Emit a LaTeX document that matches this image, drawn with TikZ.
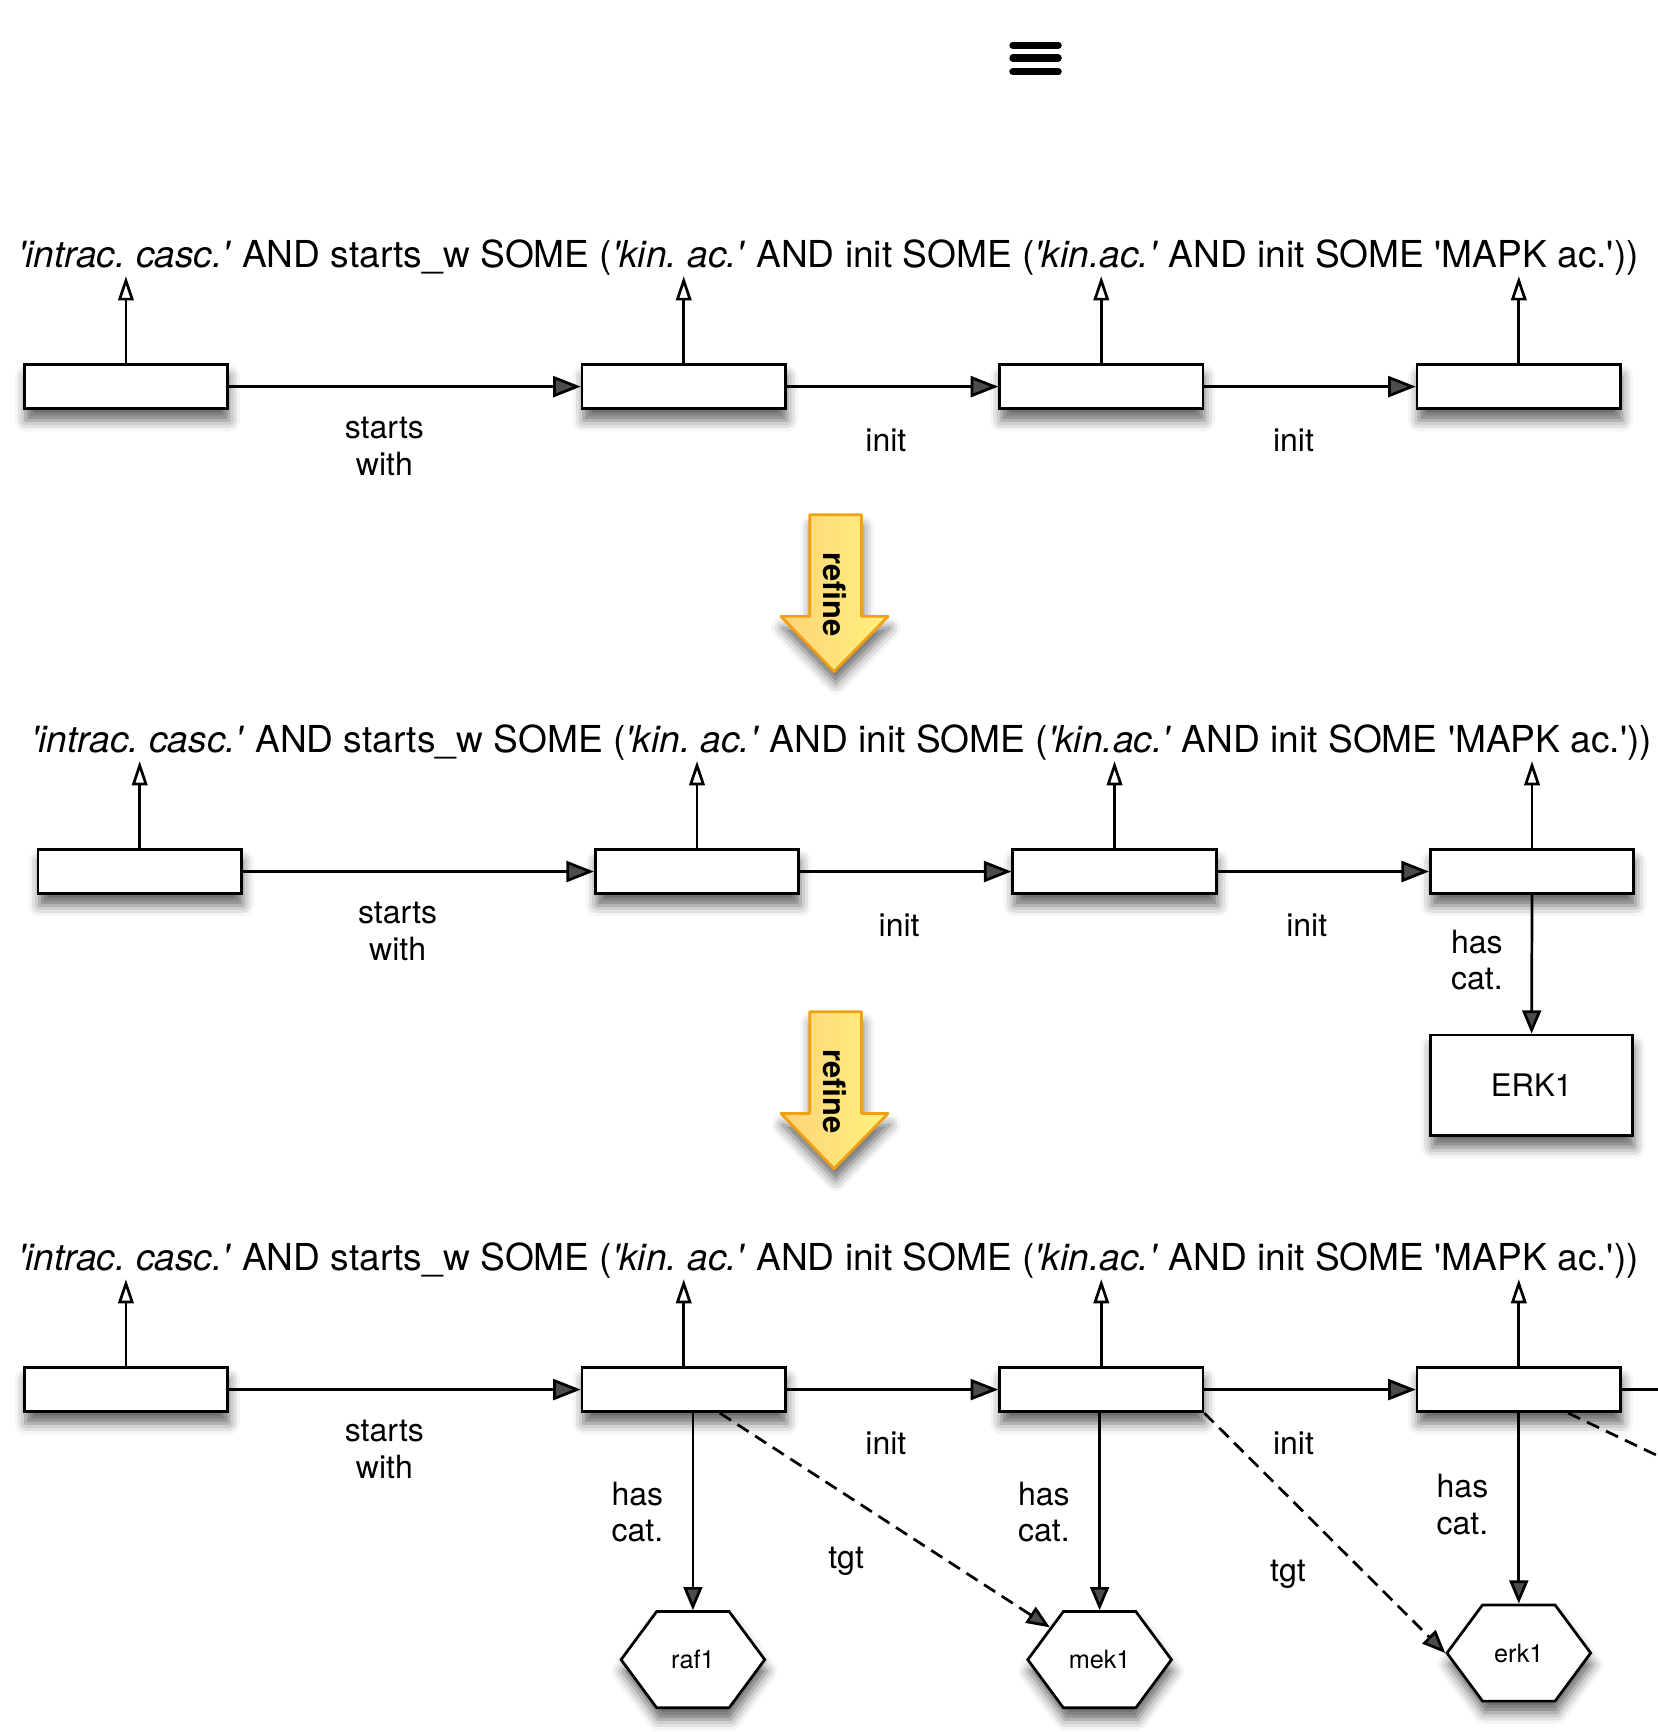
\documentclass[tikz,border=0pt]{standalone}
\usepackage{fontspec}
\setmainfont{TeX Gyre Heros}
\usetikzlibrary{arrows.meta,shapes.symbols,shadows.blur}
\definecolor{refL}{HTML}{FFD27A}
\definecolor{refR}{HTML}{FFF27C}
\definecolor{refB}{HTML}{F0A010}
\newcommand{\sq}{\textquotesingle}
\newcommand{\casc}{\frenchspacing\textit{\sq intrac. casc.\sq} AND starts\_w SOME (\textit{\sq kin. ac.\sq} AND init SOME (\textit{\sq kin.ac.\sq} AND init SOME \sq MAPK ac.\sq))}
\begin{document}
\begin{tikzpicture}
  [x=0.01cm,y=-0.01cm,line width=0.7pt,
   shad/.style={blur shadow={shadow xshift=0.4pt,shadow yshift=-3pt,shadow blur radius=2.8pt,shadow opacity=60}},
   box/.style={draw,fill=white,minimum width=1.84cm,minimum height=0.4cm,inner sep=0pt,shad},
   bigbox/.style={draw,fill=white,minimum width=1.83cm,minimum height=0.91cm,inner sep=0pt,shad,font=\fontsize{8}{9.4}\selectfont},
   hexa/.style={signal,signal to=east and west,signal pointer angle=107,draw,fill=white,minimum width=1.3cm,minimum height=0.87cm,inner sep=0pt,shad,font=\fontsize{6.5}{7.5}\selectfont},
   owl/.style={anchor=base,inner sep=0pt,font=\fontsize{9.56}{11}\selectfont},
   lbl/.style={align=center,fill=white,inner sep=3.4pt,font=\fontsize{8.25}{9.4}\selectfont},
   arr/.style={-{Triangle[length=0.25cm,width=0.19cm]}},
   up/.style={-{Triangle[open,length=0.22cm,width=0.14cm]}},
   cat/.style={-{Triangle[length=0.21cm,width=0.17cm]}},
   tgt/.style={cat,dash pattern=on 0.12cm off 0.07cm},
   refine/.style={draw=refB,left color=refL,right color=refR,line width=0.7pt,line join=round,shad},
   reftxt/.style={rotate=-90,inner sep=0pt,font=\fontsize{7.94}{9}\selectfont\bfseries}]
  \useasboundingbox (0,0) rectangle (1501,1568);

  % menu icon
  \foreach \y in {41,52.5,65}
    \draw[line width=1.85pt,line cap=round] (917,\y) -- (958,\y);

  % first row
  \node[owl] (q1) at (750,242) {\casc};
  \node[box] (b11) at (114,350) {};
  \node[box] (b12) at (619,350) {};
  \node[box] (b13) at (997,350) {};
  \node[box] (b14) at (1375,350) {};
  \coordinate (t1) at (0,250);
  \node[lbl] (l11) at (348,404) {starts\\with};
  \node[lbl] (l12) at (802,399) {init};
  \node[lbl] (l13) at (1171,399) {init};

  % refine arrows
  \foreach \dy/\n in {0/ref1,450/ref2} {
    \path[refine] (733,{466+\dy}) -- (780,{466+\dy}) -- (780,{558+\dy}) -- (804,{558+\dy})
      -- (755,{608+\dy}) -- (707,{558+\dy}) -- (733,{558+\dy}) -- cycle;
    \node[reftxt] (\n) at (756,{538+\dy}) {refine};
  }

  % second row
  \node[owl] (q2) at (762,681) {\casc};
  \node[box] (b21) at (126.5,789) {};
  \node[box] (b22) at (631,789) {};
  \node[box] (b23) at (1009,789) {};
  \node[box] (b24) at (1387,789) {};
  \coordinate (t2) at (0,689);
  \node[bigbox] (erk) at (1386.5,982.5) {ERK1};
  \node[lbl] (l21) at (360,843) {starts\\with};
  \node[lbl] (l22) at (814,838) {init};
  \node[lbl] (l23) at (1183,838) {init};
  \node[lbl] (l24) at (1337,869) {has\\cat.};

  % third row
  \node[owl] (q3) at (750,1150) {\casc};
  \node[box] (b31) at (114,1258) {};
  \node[box] (b32) at (619,1258) {};
  \node[box] (b33) at (997,1258) {};
  \node[box] (b34) at (1375,1258) {};
  \coordinate (t3) at (0,1158);
  \node[hexa] (raf1) at (627.3,1502.5) {raf1};
  \node[hexa] (mek1) at (995.5,1502.5) {mek1};
  \node[hexa] (erk1) at (1375,1496.5) {erk1};
  \coordinate (offr) at (1501,1258);
  \coordinate (offd) at (1501,1318);
  \node[lbl] (l31) at (348,1312) {starts\\with};
  \node[lbl] (l32) at (802,1307) {init};
  \node[lbl] (l33) at (1171,1307) {init};
  \node[lbl] (l34) at (577,1369) {has\\cat.};
  \node[lbl] (l35) at (945,1369) {has\\cat.};
  \node[lbl] (l36) at (1324,1362) {has\\cat.};
  \node[lbl] (l37) at (766,1413) {tgt};
  \node[lbl] (l38) at (1166,1425) {tgt};

  \foreach \from/\to in {b11/b12,b12/b13,b13/b14,b21/b22,b22/b23,b23/b24,
    b31/b32,b32/b33,b33/b34}
    \draw[arr] (\from) -- (\to);
  \foreach \b/\t in {b11/t1,b12/t1,b13/t1,b14/t1,b21/t2,b22/t2,b23/t2,b24/t2,
    b31/t3,b32/t3,b33/t3,b34/t3}
    \draw[up] (\b.north) -- (\b.north |- \t);
  \draw[cat] (b24) -- (erk);
  \foreach \b/\h in {b32/raf1,b33/mek1,b34/erk1}
    \draw[cat] (\b.south -| \h.north) -- (\h.north);
  \draw[tgt] (b32) -- (mek1);
  \draw[tgt] (b33.south east) -- (erk1.west);
  \draw[dash pattern=on 0.12cm off 0.07cm] (b34) -- (offd);
  \draw (b34) -- (offr);
\end{tikzpicture}
\end{document}
